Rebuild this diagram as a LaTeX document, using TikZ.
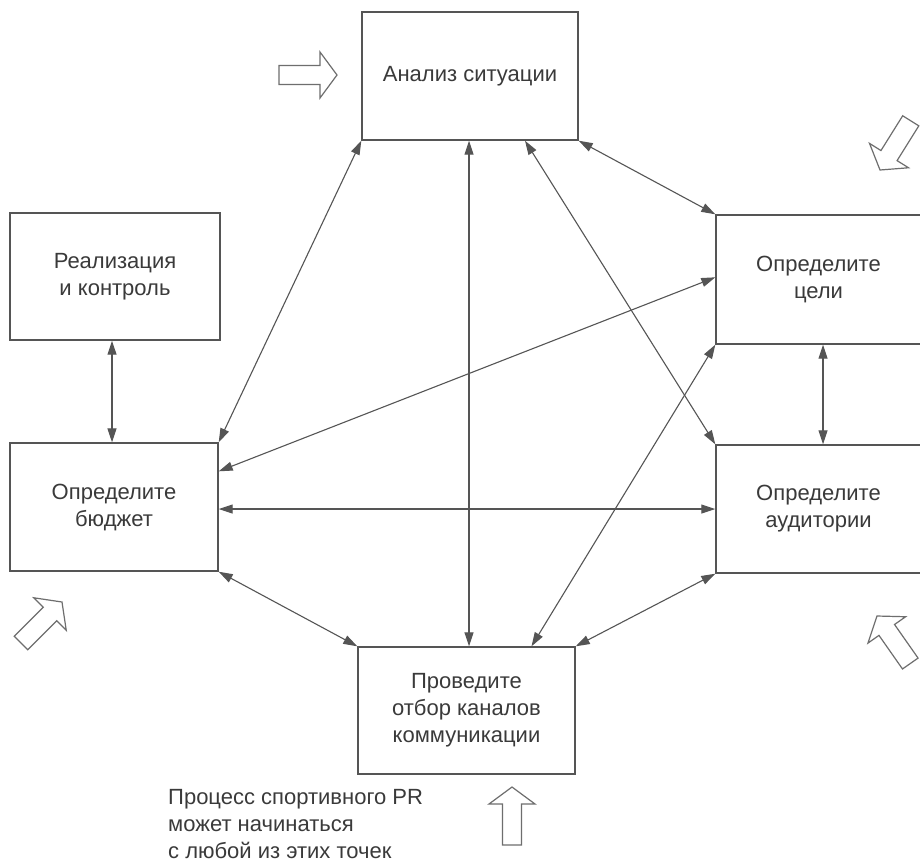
\documentclass[tikz,border=0pt]{standalone}
\usepackage{fontspec}
\setmainfont{Liberation Sans}
\usetikzlibrary{arrows.meta,calc}
\definecolor{linegray}{HTML}{555555}
\definecolor{textgray}{HTML}{3A3A3A}
\tikzset{
  box/.style={draw=linegray, line width=1.4pt, rectangle, inner sep=0pt,
    align=center, text=textgray, font=\fontsize{22}{27}\selectfont},
  conn/.style={draw=linegray, line width=1.1pt,
    {Triangle[length=14pt,width=9pt]}-{Triangle[length=14pt,width=9pt]}},
  hollowline/.style={draw=linegray!85, line width=1.2pt, line join=miter, fill=white},
  hollowarrow/.pic={\draw[hollowline] (0,0) -- (-17,23) -- (-17,9.5) -- (-58,9.5)
     -- (-58,-9.5) -- (-17,-9.5) -- (-17,-23) -- cycle;},
  caption/.style={text=textgray, font=\fontsize{22}{27}\selectfont, align=left,
    inner sep=0pt, anchor=north west}
}
\begin{document}
\begin{tikzpicture}[x=1pt,y=-1pt]
\useasboundingbox (0,0) rectangle (920,863);
\clip (0,0) rectangle (920,863);
\fill[white] (0,0) rectangle (920,863);

% boxes
\node[box, minimum width=216pt, minimum height=128pt] (an) at (470,76) {Анализ ситуации};
\node[box, minimum width=210pt, minimum height=127pt] (re) at (115,276.5) {Реализация\\и контроль};
\node[box, minimum width=205pt, minimum height=129pt] (go) at (818.5,279.5) {Определите\\цели};
\node[box, minimum width=205pt, minimum height=128pt] (au) at (818.5,509) {Определите\\аудитории};
\node[box, minimum width=208pt, minimum height=128pt] (bu) at (114,507) {Определите\\бюджет};
\node[box, minimum width=217pt, minimum height=127pt] (ch) at (466.5,710.5) {Проведите\\отбор каналов\\коммуникации};

% connectors
\draw[conn] (bu.north east) -- (an.south west);
\draw[conn] ([xshift=-1pt]an.south) -- ([xshift=-1pt]an.south |- ch.north);
\draw[conn] ([xshift=55pt]an.south) -- (au.north west);
\draw[conn] (an.south east) -- (go.north west);
\draw[conn] ([yshift=-29pt]bu.north east) -- ([yshift=-63pt]go.north west);
\draw[conn] (bu.east |- au.west) -- (au.west);
\draw[conn] (bu.south east) -- (ch.north west);
\draw[conn] ([xshift=65pt]ch.north) -- (go.south west);
\draw[conn] (ch.north east) -- (au.south west);
\draw[conn] ([xshift=4.5pt]go.south) -- ([xshift=4.5pt]au.north);
\draw[conn] ([xshift=-3pt]re.south) -- ([xshift=-3pt]re.south |- bu.north);

% hollow entry arrows
\pic at (337,75) {hollowarrow};
\pic[rotate=238] at (880,170) {hollowarrow};
\pic[rotate=45] at (62,602) {hollowarrow};
\pic[rotate=90] at (512,787) {hollowarrow};
\pic[rotate=125] at (877,616) {hollowarrow};

% caption
\node[caption] (cap) at (168,789) {Процесс спортивного PR\\может начинаться\\с любой из этих точек};
\end{tikzpicture}
\end{document}
